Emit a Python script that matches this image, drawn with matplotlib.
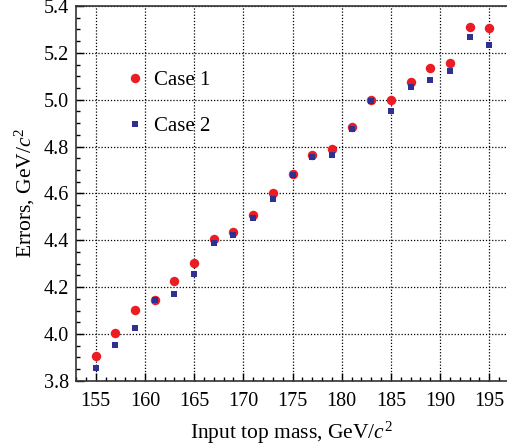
import matplotlib
matplotlib.use("Agg")
import matplotlib.pyplot as plt
from matplotlib.ticker import MultipleLocator, FormatStrFormatter

plt.rcParams['font.family'] = ['Liberation Serif', 'DejaVu Serif']
plt.rcParams['mathtext.fontset'] = 'custom'
plt.rcParams['mathtext.rm'] = 'Liberation Serif'
plt.rcParams['mathtext.it'] = 'Liberation Serif:italic'

mass = [155, 157, 159, 161, 163, 165, 167, 169, 171, 173, 175,
        177, 179, 181, 183, 185, 187, 189, 191, 193, 195]
case1 = [3.906, 4.003, 4.101, 4.145, 4.225, 4.305, 4.407, 4.435, 4.507, 4.604, 4.684,
         4.765, 4.791, 4.883, 4.999, 4.997, 5.077, 5.135, 5.158, 5.309, 5.306]
case2 = [3.853, 3.953, 4.027, 4.146, 4.172, 4.256, 4.390, 4.423, 4.497, 4.578, 4.677,
         4.755, 4.766, 4.877, 4.993, 4.954, 5.054, 5.085, 5.124, 5.269, 5.235]

fig = plt.figure(figsize=(5.07, 4.46), dpi=100)
ax = fig.add_axes([0.150, 0.146, 0.850, 0.8405])

ax.plot(mass, case1, 'o', color='#EC1C24', markersize=6.8, markeredgewidth=0,
        label='Case 1', zorder=3)
ax.plot(mass, case2, 's', color='#2E3192', markersize=4.6, markeredgewidth=0,
        label='Case 2', zorder=4)

ax.set_xlim(153, 196.8)
ax.set_ylim(3.8, 5.4)
ax.xaxis.set_major_locator(MultipleLocator(5))
ax.xaxis.set_minor_locator(MultipleLocator(1))
ax.yaxis.set_major_locator(MultipleLocator(0.2))
ax.yaxis.set_minor_locator(MultipleLocator(0.05))
ax.yaxis.set_major_formatter(FormatStrFormatter('%.1f'))
ax.tick_params(which='both', direction='in', labelsize=14.5, width=1.0,
               top=False, right=False)
ax.tick_params(which='major', length=6)
ax.tick_params(axis='x', which='major', pad=8)
ax.tick_params(axis='y', which='major', pad=5)
ax.tick_params(which='minor', length=3)
ax.grid(True, which='major', linestyle=(0, (1, 1.5)), color='black', linewidth=0.9)
ax.spines['right'].set_visible(False)
for s in ['left', 'bottom', 'top']:
    ax.spines[s].set_linewidth(1.2)
    ax.spines[s].set_color('#333333')

ax.set_xlabel(r'Input top mass, GeV/$c^2$', fontsize=15.5, labelpad=6)
ax.set_ylabel(r'Errors, GeV/$c^2$', fontsize=15.5, labelpad=5)

ax.legend(loc='upper left', bbox_to_anchor=(0.088, 0.855), frameon=False,
          fontsize=15, handlelength=1.0, handletextpad=0.42, labelspacing=1.27,
          borderpad=0)

fig.savefig('out.png', dpi=100)
